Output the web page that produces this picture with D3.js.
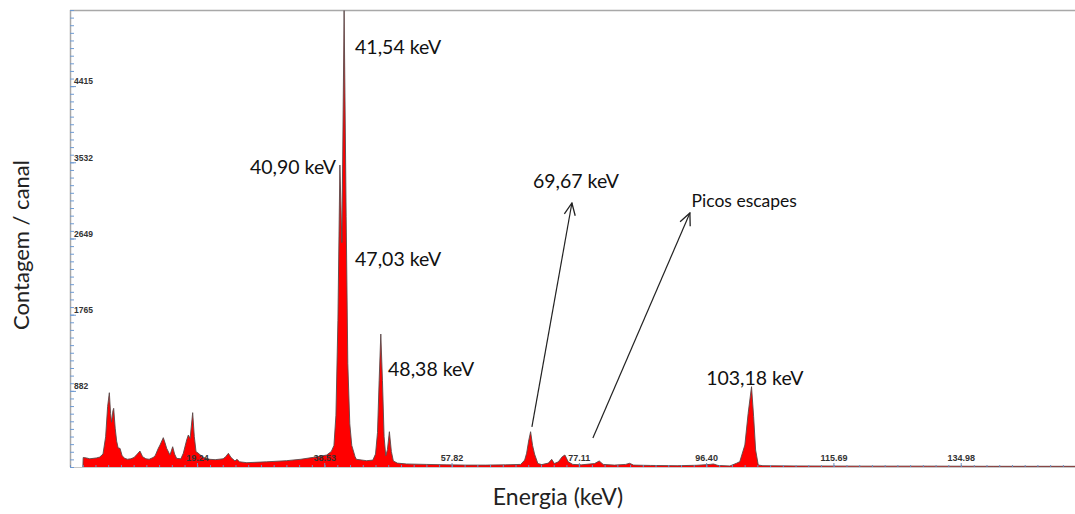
<!DOCTYPE html>
<html>
<head>
<meta charset="utf-8">
<script src="https://cdn.jsdelivr.net/npm/d3@7"></script>
<style>
  html, body { margin: 0; padding: 0; background: #ffffff; }
  svg { display: block; }
</style>
</head>
<body>
<svg id="chart" width="1075" height="514"></svg>
<script>
// Gamma spectrum: energy (keV) of each sampled channel and its counts
const energy = [
  1.95, 2.0, 2.5, 3.0, 3.5, 4.0, 4.5, 5.0, 5.4, 5.7, 5.96, 6.15, 6.3, 6.5, 6.62, 6.85,
  7.07, 7.3, 7.58, 7.9, 8.3, 8.7, 9.2, 9.7, 10.2, 10.6, 11.0, 11.5, 12.0, 12.6, 12.9,
  13.38, 13.64, 14.14, 14.4, 14.65, 15.15, 15.56, 15.85, 16.16, 16.8, 17.17, 17.68,
  17.93, 18.2, 18.59, 18.84, 19.1, 19.4, 20.2, 21.2, 22.0, 23.2, 23.6, 24.0, 24.4,
  25.0, 25.3, 25.7, 26.8, 29.8, 32.8, 35.0, 36.9, 38.0, 38.9, 39.6, 40.0, 40.3, 40.6,
  40.9, 41.2, 41.54, 41.85, 42.1, 42.4, 42.7, 43.2, 43.4, 44.95, 45.9, 46.3, 46.6,
  46.85, 47.1, 47.35, 47.6, 47.85, 48.1, 48.4, 48.7, 49.0, 49.6, 51.0, 54.0, 57.0,
  60.0, 63.0, 66.0, 68.3, 68.9, 69.2, 69.5, 69.8, 70.1, 70.4, 70.9, 71.5, 72.5, 73.0,
  73.4, 74.0, 74.6, 75.0, 75.5, 76.2, 77.5, 79.5, 80.2, 80.8, 82.5, 84.2, 84.8, 85.4,
  88.0, 92.0, 95.0, 97.0, 97.5, 98.2, 100.0, 101.0, 101.5, 102.27, 102.77, 103.28,
  103.6, 103.9, 104.3, 105.0, 110.0, 120.0, 130.0, 140.0, 152.3
];
const counts = [
  0, 110, 105, 95, 100, 105, 115, 150, 350, 700, 861, 620, 520, 650, 680, 450,
  300, 220, 216, 130, 100, 90, 95, 110, 150, 185, 120, 95, 90, 110, 130,
  216, 255, 340, 280, 216, 139, 235, 150, 100, 95, 159, 313,
  371, 330, 630, 351, 178, 162, 110, 89, 85, 95, 120, 159, 110,
  70, 89, 60, 50, 60, 73, 90, 112, 125, 139, 180, 250, 600, 1700,
  3500, 2600, 5290, 2900, 1200, 500, 250, 120, 89, 73, 80, 150, 400,
  1000, 1541, 1000, 350, 130, 200, 409, 180, 70, 45, 35, 30, 25,
  22, 22, 25, 30, 80, 160, 300, 409, 250, 150, 40, 28, 45, 89,
  40, 60, 120, 139, 60, 30, 25, 40, 70, 30, 22, 30, 43, 22,
  18, 15, 20, 30, 35, 18, 12, 43, 62, 255, 622, 931,
  583, 197, 23, 15, 12, 10, 10, 8, 8
];

// Axis tick labels as printed by the acquisition software
const xTickValues = [19.24, 38.53, 57.82, 77.11, 96.40, 115.69, 134.98];
const yTickValues = [882, 1765, 2649, 3532, 4415];

// Peak annotations (energy / count where each label sits)
const labelText   = ["41,54 keV", "40,90 keV", "47,03 keV", "48,38 keV", "69,67 keV", "Picos escapes", "103,18 keV"];
const labelEnergy = [43.2, 40.3, 43.2, 48.2, 70.15, 94.2, 96.4];
const labelCount  = [4787, 3396, 2330, 1055, 3234, 3013, 950];
const labelAnchor = ["start", "end", "start", "start", "start", "start", "start"];
const labelSize   = [19.5, 19.5, 19.5, 19.5, 19.5, 17.5, 19.5];

// Arrows pointing from the escape peaks to their caption
const arrowFrom = [[70.0, 464], [79.24, 336]];
const arrowTo   = [[76.06, 3060], [93.94, 2944]];

const svg = d3.select("#chart");
const plot = { left: 70, top: 10, right: 1075, bottom: 467 };

const x = d3.scaleLinear().domain([0, 152.3]).range([plot.left, plot.right]);
const y = d3.scaleLinear().domain([0, 5297]).range([plot.bottom, plot.top]);

const spectrum = energy.map((e, i) => ({ e, c: counts[i] }));

// Frame
svg.append("line")
  .attr("x1", plot.left).attr("x2", plot.right)
  .attr("y1", plot.top + 0.5).attr("y2", plot.top + 0.5)
  .attr("stroke", "#a8a8a8").attr("stroke-width", 1.5);
svg.append("line")
  .attr("x1", plot.left + 0.5).attr("x2", plot.left + 0.5)
  .attr("y1", plot.top).attr("y2", plot.bottom)
  .attr("stroke", "#a8a8a8").attr("stroke-width", 1.5);
svg.append("line")
  .attr("x1", plot.left).attr("x2", plot.right)
  .attr("y1", plot.bottom + 0.5).attr("y2", plot.bottom + 0.5)
  .attr("stroke", "#c8c8c8").attr("stroke-width", 1);

// Spectrum fill and outline
const area = d3.area()
  .x(d => x(d.e))
  .y0(plot.bottom)
  .y1(d => y(d.c));
const line = d3.line()
  .x(d => x(d.e))
  .y(d => y(d.c));

svg.append("path")
  .datum(spectrum)
  .attr("d", area)
  .attr("fill", "#ff0000");
svg.append("path")
  .datum(spectrum)
  .attr("d", line)
  .attr("fill", "none")
  .attr("stroke", "#5a4a4a")
  .attr("stroke-width", 0.9)
  .attr("stroke-linejoin", "round");

// Minor ticks on the count axis
const yMinor = d3.range(0, 61).map(i => i * 5297 / 60);
svg.append("g")
  .attr("transform", `translate(${plot.left},0)`)
  .call(d3.axisRight(y).tickValues(yMinor).tickSize(4).tickFormat(""))
  .call(g => g.select(".domain").remove())
  .call(g => g.selectAll("line").attr("stroke", "#6f9bd3").attr("stroke-width", 1));

// Major count ticks with labels sitting just above each tick
svg.append("g")
  .attr("transform", `translate(${plot.left},0)`)
  .call(d3.axisRight(y).tickValues(yTickValues).tickSize(6).tickPadding(2).tickFormat(d3.format("d")))
  .call(g => g.select(".domain").remove())
  .call(g => g.selectAll("line").attr("stroke", "#6f9bd3").attr("stroke-width", 1))
  .call(g => g.selectAll("text")
    .attr("x", 4)
    .attr("dy", "-0.25em")
    .attr("font-family", "Liberation Sans, Arial, sans-serif")
    .attr("font-size", 8.5)
    .attr("font-weight", "bold")
    .attr("fill", "#333"));

// Minor ticks on the energy axis
const xMinor = d3.range(0, 80).map(i => i * 19.29 / 10).filter(v => v <= 152.3);
svg.append("g")
  .attr("transform", `translate(0,${plot.bottom})`)
  .call(d3.axisTop(x).tickValues(xMinor).tickSize(2).tickFormat(""))
  .call(g => g.select(".domain").remove())
  .call(g => g.selectAll("line").attr("stroke", "#6f8fc0").attr("stroke-width", 1));

// Major energy ticks with labels inside the plot
svg.append("g")
  .attr("transform", `translate(0,${plot.bottom})`)
  .call(d3.axisTop(x).tickValues(xTickValues).tickSize(4).tickPadding(2).tickFormat(d3.format(".2f")))
  .call(g => g.select(".domain").remove())
  .call(g => g.selectAll("line").attr("stroke", "#6f8fc0").attr("stroke-width", 1))
  .call(g => g.selectAll("text")
    .attr("font-family", "Liberation Sans, Arial, sans-serif")
    .attr("font-size", 9)
    .attr("font-weight", "bold")
    .attr("fill", "#333"));

// Arrows
const defs = svg.append("defs");
defs.append("marker")
  .attr("id", "open-arrow")
  .attr("viewBox", "0 0 14 14")
  .attr("refX", 13).attr("refY", 7)
  .attr("markerWidth", 14).attr("markerHeight", 14)
  .attr("markerUnits", "userSpaceOnUse")
  .attr("orient", "auto")
  .append("path")
  .attr("d", "M1,1.5 L13,7 L1,12.5")
  .attr("fill", "none")
  .attr("stroke", "#222")
  .attr("stroke-width", 1.3);

arrowFrom.forEach((p, i) => {
  svg.append("line")
    .attr("x1", x(p[0])).attr("y1", y(p[1]))
    .attr("x2", x(arrowTo[i][0])).attr("y2", y(arrowTo[i][1]))
    .attr("stroke", "#222")
    .attr("stroke-width", 1.2)
    .attr("marker-end", "url(#open-arrow)");
});

// Peak labels
labelText.forEach((t, i) => {
  svg.append("text")
    .attr("x", x(labelEnergy[i]))
    .attr("y", y(labelCount[i]))
    .attr("text-anchor", labelAnchor[i])
    .attr("font-family", "Lato, 'Open Sans', sans-serif")
    .attr("font-size", labelSize[i])
    .attr("fill", "#111")
    .text(t);
});

// Axis titles
svg.append("text")
  .attr("transform", `translate(29,245) rotate(-90)`)
  .attr("text-anchor", "middle")
  .attr("font-family", "Lato, 'Open Sans', sans-serif")
  .attr("font-size", 22)
  .attr("fill", "#222")
  .text("Contagem / canal");

svg.append("text")
  .attr("x", 558).attr("y", 505)
  .attr("text-anchor", "middle")
  .attr("font-family", "Lato, 'Open Sans', sans-serif")
  .attr("font-size", 23)
  .attr("fill", "#222")
  .text("Energia (keV)");
</script>
</body>
</html>
